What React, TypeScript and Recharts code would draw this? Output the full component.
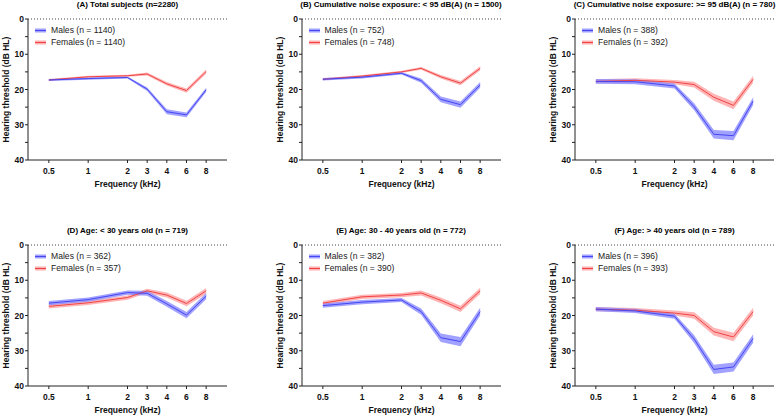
import {
  Area,
  ComposedChart,
  Line,
  ReferenceLine,
  XAxis,
  YAxis,
} from 'recharts';

const FONT = "Arial, 'Liberation Sans', sans-serif";

// audiogram frequencies and where they sit on the x axis (octaves below 2 kHz, half-steps above)
const FREQ_LABELS = ['0.5', '1', '2', '3', '4', '6', '8'];
const FREQ_AXIS_POS = [0, 1, 2, 2.5, 3, 3.5, 4];
const Y_TICKS = [0, 5, 10, 15, 20, 25, 30, 35, 40];

// (A) total subjects
const A_MALES = [17.3, 16.9, 16.6, 19.9, 26.3, 27.2, 20.1];
const A_MALES_CI = [0.3, 0.3, 0.3, 0.5, 0.7, 0.7, 0.6];
const A_FEMALES = [17.3, 16.4, 16.1, 15.6, 18.4, 20.3, 14.9];
const A_FEMALES_CI = [0.3, 0.3, 0.3, 0.4, 0.5, 0.6, 0.6];

// (B) noise < 95 dB(A)
const B_MALES = [17.1, 16.5, 15.4, 17.5, 22.8, 24.3, 18.7];
const B_MALES_CI = [0.35, 0.35, 0.35, 0.6, 0.8, 0.9, 0.8];
const B_FEMALES = [17.1, 16.2, 15.0, 14.0, 16.4, 18.2, 14.0];
const B_FEMALES_CI = [0.3, 0.3, 0.3, 0.4, 0.5, 0.6, 0.6];

// (C) noise >= 95 dB(A)
const C_MALES = [17.7, 17.8, 19.0, 24.9, 32.7, 33.1, 23.3];
const C_MALES_CI = [0.7, 0.7, 0.7, 1.0, 1.2, 1.3, 1.1];
const C_FEMALES = [17.7, 17.4, 17.9, 18.6, 22.2, 24.5, 17.1];
const C_FEMALES_CI = [0.6, 0.6, 0.6, 0.8, 1.0, 1.1, 1.0];

// (D) age < 30
const D_MALES = [16.5, 15.5, 13.5, 13.7, 16.7, 19.9, 14.5];
const D_MALES_CI = [0.6, 0.6, 0.6, 0.7, 0.8, 0.9, 0.9];
const D_FEMALES = [17.4, 16.4, 14.9, 13.0, 14.2, 16.6, 13.0];
const D_FEMALES_CI = [0.6, 0.6, 0.6, 0.6, 0.7, 0.8, 0.8];

// (E) age 30 - 40
const E_MALES = [17.2, 16.2, 15.6, 18.9, 26.3, 27.4, 18.9];
const E_MALES_CI = [0.6, 0.6, 0.6, 0.9, 1.2, 1.3, 1.1];
const E_FEMALES = [16.5, 14.7, 14.2, 13.6, 15.7, 18.1, 13.0];
const E_FEMALES_CI = [0.6, 0.6, 0.6, 0.7, 0.8, 0.9, 0.9];

// (F) age > 40
const F_MALES = [18.2, 18.7, 20.2, 26.7, 35.3, 34.6, 26.5];
const F_MALES_CI = [0.6, 0.6, 0.7, 1.1, 1.3, 1.3, 1.2];
const F_FEMALES = [18.2, 18.5, 19.3, 20.0, 24.6, 26.1, 18.9];
const F_FEMALES_CI = [0.6, 0.6, 0.7, 0.9, 1.1, 1.2, 1.1];

const PANELS = [
  { title: '(A) Total subjects (n=2280)', nM: 1140, nF: 1140, m: A_MALES, mCi: A_MALES_CI, f: A_FEMALES, fCi: A_FEMALES_CI },
  { title: '(B) Cumulative noise exposure: < 95 dB(A) (n = 1500)', nM: 752, nF: 748, m: B_MALES, mCi: B_MALES_CI, f: B_FEMALES, fCi: B_FEMALES_CI },
  { title: '(C) Cumulative noise exposure: >= 95 dB(A) (n = 780)', nM: 388, nF: 392, m: C_MALES, mCi: C_MALES_CI, f: C_FEMALES, fCi: C_FEMALES_CI },
  { title: '(D) Age: < 30 years old (n = 719)', nM: 362, nF: 357, m: D_MALES, mCi: D_MALES_CI, f: D_FEMALES, fCi: D_FEMALES_CI },
  { title: '(E) Age: 30 - 40 years old (n = 772)', nM: 382, nF: 390, m: E_MALES, mCi: E_MALES_CI, f: E_FEMALES, fCi: E_FEMALES_CI },
  { title: '(F) Age: > 40 years old (n = 789)', nM: 396, nF: 393, m: F_MALES, mCi: F_MALES_CI, f: F_FEMALES, fCi: F_FEMALES_CI },
];

const BLUE_LINE = '#4646f2';
const BLUE_BAND = '#8a8aff';
const RED_LINE = '#f04444';
const RED_BAND = '#ff9c9c';

const CHART_W = 273;
const CHART_H = 200;
const PLOT_LEFT = 28;
const PLOT_TOP = 19;
const PLOT_W = 199;

type Panel = (typeof PANELS)[number];

function LegendRow({ color, band, text }: { color: string; band: string; text: string }) {
  return (
    <div style={{ display: 'flex', alignItems: 'center', height: 12 }}>
      <svg width={11} height={5} style={{ marginRight: 5 }}>
        <rect x={0} y={0.5} width={11} height={4} fill={band} opacity={0.8} />
        <line x1={0} x2={11} y1={2.5} y2={2.5} stroke={color} strokeWidth={1} />
      </svg>
      <span>{text}</span>
    </div>
  );
}

function AudiogramPanel({ panel, left, top }: { panel: Panel; left: number; top: number }) {
  const data = FREQ_LABELS.map((label, i) => ({
    label,
    x: FREQ_AXIS_POS[i],
    males: panel.m[i],
    malesBand: [panel.m[i] - panel.mCi[i], panel.m[i] + panel.mCi[i]],
    females: panel.f[i],
    femalesBand: [panel.f[i] - panel.fCi[i], panel.f[i] + panel.fCi[i]],
  }));

  return (
    <div style={{ position: 'absolute', left, top, width: CHART_W, height: CHART_H }}>
      <div
        style={{
          position: 'absolute',
          left: PLOT_LEFT - 60,
          width: PLOT_W + 120,
          top: PLOT_TOP - 19,
          textAlign: 'center',
          fontSize: 8,
          fontWeight: 'bold',
          whiteSpace: 'nowrap',
          lineHeight: '10px',
        }}
      >
        {panel.title}
      </div>
      <ComposedChart
        width={CHART_W}
        height={CHART_H}
        data={data}
        margin={{ top: PLOT_TOP, right: CHART_W - PLOT_LEFT - PLOT_W, bottom: 10, left: 0 }}
        style={{ fontFamily: FONT }}
      >
        <XAxis
          dataKey="x"
          type="number"
          domain={[-0.53, 4.53]}
          ticks={FREQ_AXIS_POS}
          tickFormatter={(v: number) => FREQ_LABELS[FREQ_AXIS_POS.indexOf(v)]}
          height={30}
          tickSize={3}
          tickMargin={5}
          interval={0}
          stroke="#222"
          tick={{ fontSize: 8.5, fontWeight: 'bold', fill: '#111' }}
          label={{
            value: 'Frequency (kHz)',
            position: 'insideBottom',
            offset: 3,
            fontSize: 8.5,
            fontWeight: 'bold',
            fill: '#111',
          }}
        />
        <YAxis
          type="number"
          domain={[0, 40]}
          reversed
          ticks={Y_TICKS}
          interval={0}
          width={PLOT_LEFT}
          tickSize={3}
          tickMargin={1}
          stroke="#222"
          tickFormatter={(v: number) => (v % 10 === 0 ? String(v) : '')}
          tick={{ fontSize: 8.5, fontWeight: 'bold', fill: '#111' }}
          label={{
            value: 'Hearing threshold (dB HL)',
            angle: -90,
            position: 'insideLeft',
            offset: 6,
            fontSize: 8.5,
            fontWeight: 'bold',
            fill: '#111',
            style: { textAnchor: 'middle' },
          }}
        />
        <ReferenceLine y={0} stroke="#444" strokeDasharray="1 2" />
        <Area
          dataKey="femalesBand"
          type="linear"
          stroke="none"
          fill={RED_BAND}
          fillOpacity={0.75}
          isAnimationActive={false}
          activeDot={false}
        />
        <Line
          dataKey="females"
          type="linear"
          stroke={RED_LINE}
          strokeWidth={1}
          dot={false}
          isAnimationActive={false}
        />
        <Area
          dataKey="malesBand"
          type="linear"
          stroke="none"
          fill={BLUE_BAND}
          fillOpacity={0.8}
          isAnimationActive={false}
          activeDot={false}
        />
        <Line
          dataKey="males"
          type="linear"
          stroke={BLUE_LINE}
          strokeWidth={1}
          dot={false}
          isAnimationActive={false}
        />
      </ComposedChart>
      <div
        style={{
          position: 'absolute',
          left: PLOT_LEFT + 7,
          top: PLOT_TOP + 5,
          fontSize: 8.6,
          color: '#222',
          lineHeight: '12px',
        }}
      >
        <LegendRow color={BLUE_LINE} band={BLUE_BAND} text={`Males (n = ${panel.nM})`} />
        <LegendRow color={RED_LINE} band={RED_BAND} text={`Females (n = ${panel.nF})`} />
      </div>
    </div>
  );
}

export default function App() {
  return (
    <div
      style={{
        position: 'absolute',
        left: 0,
        top: 0,
        width: 778,
        height: 416,
        overflow: 'hidden',
        background: '#fff',
        fontFamily: FONT,
      }}
    >
      {PANELS.map((p, i) => (
        <AudiogramPanel
          key={p.title}
          panel={p}
          left={(i % 3) * 273.5}
          top={Math.floor(i / 3) * 226}
        />
      ))}
    </div>
  );
}
